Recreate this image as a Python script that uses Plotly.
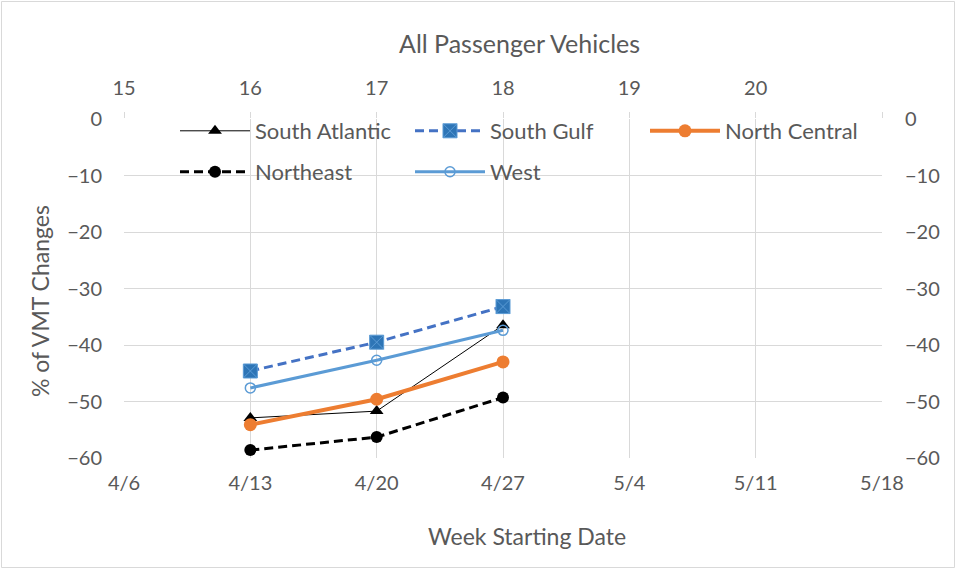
import plotly.graph_objects as go

dates = ["2020-04-13", "2020-04-20", "2020-04-27"]
weeks = [16, 17, 18]
south_atlantic = [-52.9, -51.7, -36.5]
south_gulf = [-44.6, -39.5, -33.2]
north_central = [-54.1, -49.6, -43.0]
northeast = [-58.6, -56.3, -49.3]
west = [-47.6, -42.7, -37.4]

x_tickvals = ["2020-04-06", "2020-04-13", "2020-04-20", "2020-04-27", "2020-05-04", "2020-05-11", "2020-05-18"]
x_ticktext = ["4/6", "4/13", "4/20", "4/27", "5/4", "5/11", "5/18"]
week_tickvals = [15, 16, 17, 18, 19, 20, 21]
week_ticktext = ["15", "16", "17", "18", "19", "20", ""]
y_ticks = [0, -10, -20, -30, -40, -50, -60]

FONT = "Lato"
GREY = "#595959"
GRID = "#d9d9d9"

L, T, R, B = 124, 119, 74, 111
W, H = 956, 569
PW, PH = W - L - R, H - T - B


def px(x):
    return (x - L) / PW


def py(y):
    return (H - B - y) / PH


fig = go.Figure()
fig.add_trace(go.Scatter(x=dates, y=south_atlantic, name="South Atlantic", mode="lines+markers",
                         line=dict(color="black", width=1),
                         marker=dict(symbol="triangle-up", size=12, color="black"), legend="legend"))
fig.add_trace(go.Scatter(x=dates, y=south_gulf, name="South Gulf", mode="lines+markers",
                         line=dict(color="#4472C4", width=3, dash="9px,5px"),
                         marker=dict(symbol="square-x", size=14, color="#2E75B6",
                                     line=dict(color="#5B9BD5", width=1)), legend="legend"))
fig.add_trace(go.Scatter(x=dates, y=north_central, name="North Central", mode="lines+markers",
                         line=dict(color="#ED7D31", width=4),
                         marker=dict(symbol="circle", size=13, color="#ED7D31"), legend="legend"))
fig.add_trace(go.Scatter(x=dates, y=northeast, name="Northeast", mode="lines+markers",
                         line=dict(color="black", width=3, dash="9px,5px"),
                         marker=dict(symbol="circle", size=12, color="black"), legend="legend2"))
fig.add_trace(go.Scatter(x=dates, y=west, name="West", mode="lines+markers",
                         line=dict(color="#5B9BD5", width=3),
                         marker=dict(symbol="circle-open", size=10, color="#5B9BD5",
                                     line=dict(width=1.5)), legend="legend2"))
# invisible trace carrying the secondary axes (top week axis, right % axis)
fig.add_trace(go.Scatter(x=weeks, y=south_gulf, xaxis="x2", yaxis="y2", mode="markers",
                         marker=dict(opacity=0), showlegend=False, hoverinfo="skip"))

tickfont = dict(family=FONT, size=20, color=GREY)
legfont = dict(family=FONT, size=22, color=GREY)
legcommon = dict(orientation="h", xanchor="left", yanchor="middle", entrywidth=150,
                 entrywidthmode="pixels", font=legfont, bgcolor="rgba(255,255,255,0)", itemwidth=70)

fig.update_layout(
    width=W, height=H,
    margin=dict(l=L, r=R, t=T, b=B),
    paper_bgcolor="white", plot_bgcolor="white",
    font=dict(family=FONT, color=GREY),
    showlegend=True,
    legend=dict(x=px(175), y=py(131), **legcommon),
    legend2=dict(x=px(175), y=py(172), **legcommon),
    xaxis=dict(type="date", range=["2020-04-06", "2020-05-18"], tickvals=x_tickvals, ticktext=x_ticktext,
               showgrid=True, gridcolor=GRID, gridwidth=1, zeroline=False, showline=False,
               ticks="", tickfont=tickfont, ticklabelstandoff=11),
    xaxis2=dict(range=[15, 21], overlaying="x", side="top", tickvals=week_tickvals, ticktext=week_ticktext,
                showgrid=False, zeroline=False, showline=False,
                ticks="outside", ticklen=6, tickcolor=GRID, tickfont=tickfont, ticklabelstandoff=9),
    yaxis=dict(range=[-60, 0], tickvals=y_ticks, showgrid=True, gridcolor=GRID, gridwidth=1,
               zeroline=False, showline=False, ticks="", tickfont=tickfont, ticklabelstandoff=21),
    yaxis2=dict(range=[-60, 0], tickvals=y_ticks, overlaying="y", side="right", showgrid=False,
                zeroline=False, showline=False, ticks="", tickfont=tickfont, ticklabelstandoff=22),
    annotations=[
        dict(text="All Passenger Vehicles", xref="paper", yref="paper", x=px(519), y=py(43),
             xanchor="center", yanchor="middle",
             showarrow=False, font=dict(family=FONT, size=25, color=GREY)),
        dict(text="Week Starting Date", xref="paper", yref="paper", x=px(527), y=py(536),
             xanchor="center", yanchor="middle",
             showarrow=False, font=dict(family=FONT, size=23, color=GREY)),
        dict(text="% of VMT Changes", xref="paper", yref="paper", x=px(40), y=py(301),
             xanchor="center", yanchor="middle",
             showarrow=False, textangle=-90, font=dict(family=FONT, size=23, color=GREY)),
    ],
    shapes=[dict(type="rect", xref="paper", yref="paper", x0=px(1.5), x1=px(954.5),
                 y0=py(567.5), y1=py(1.5), line=dict(color=GRID, width=1),
                 fillcolor="rgba(0,0,0,0)", layer="below")],
)

fig.write_html("out.html", config={"displayModeBar": False},
               post_script="document.body.style.margin='0px';")
